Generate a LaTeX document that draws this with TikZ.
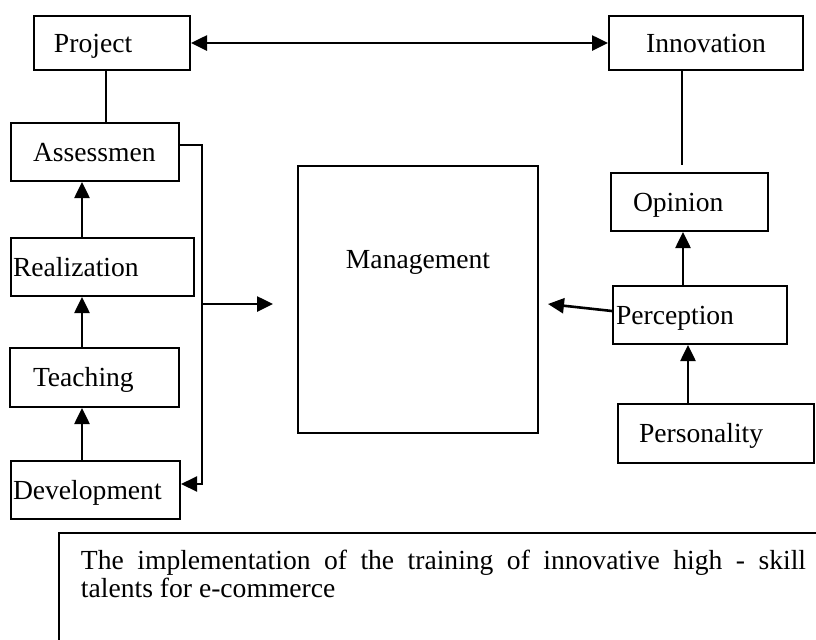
\documentclass[tikz,border=0pt]{standalone}
\usepackage{fontspec}
\setmainfont{Liberation Serif}
\usetikzlibrary{
	arrows.meta,
	calc
}
\tikzset{
	TM-Box/.style={draw,line width=1pt,anchor=north west,align=left,inner ysep=0pt,
		text height=12pt,text depth=2.8pt,font=\fontsize{13.8}{14}\selectfont},
	TM-Arrow/.style={-{Triangle[length=8pt,width=7.5pt]},line width=1.3pt},
	TM-Line/.style={line width=1.2pt}
}

\begin{document}
\begin{tikzpicture}[x=0.5pt,y=-0.5pt]
	\useasboundingbox (0,0) rectangle (816,639);
	\clip (0,0) rectangle (816,639);
	% left column
	\node[TM-Box,minimum height=27pt,inner xsep=10pt,text width=58pt] (project) at (33,15) {Project};
	\node[TM-Box,minimum height=29pt,inner xsep=11pt,text width=62pt] (assess) at (10,122) {Assessmen};
	\node[TM-Box,minimum height=29pt,inner xsep=1pt,text width=89.5pt] (realization) at (10,237) {Realization};
	\node[TM-Box,minimum height=29.5pt,inner xsep=11.5pt,text width=61.5pt] (teaching) at (9,347) {Teaching};
	\node[TM-Box,minimum height=29pt,inner xsep=1pt,text width=82.5pt] (development) at (10,460) {Development};
	% centre
	\node[TM-Box,inner xsep=0pt,text width=120pt,align=center,text height=51pt,text depth=82.5pt] (management) at (297,165) {Management};
	% right column
	\node[TM-Box,minimum height=27pt,inner xsep=15pt,text width=67pt,align=center] (innovation) at (608,15) {Innovation};
	\node[TM-Box,minimum height=29pt,inner xsep=11pt,text width=56.5pt] (opinion) at (610,172) {Opinion};
	\node[TM-Box,minimum height=29pt,inner xsep=1.5pt,text width=84pt] (perception) at (612,285) {Perception};
	\node[TM-Box,minimum height=29.5pt,inner xsep=10.5pt,text width=77pt] (personality) at (617,403) {Personality};
	% bottom box, runs off the page
	\node[TM-Box,inner xsep=11pt,inner ysep=8.5pt,text width=362.5pt,align=justify,text height=9.5pt,text depth=45pt] (goal) at (58,532)
		{The implementation of the training of innovative high - skill\linebreak talents for e-commerce};
	% columns of the arrows
	\coordinate (lcol) at (82,0);
	\coordinate (ocol) at (683,0);
	\coordinate (pcol) at (688,0);
	\coordinate (bus) at (202,0);
	% top links
	\draw[TM-Line] ([xshift=-3pt]project.south) -- ([xshift=-3pt]project.south |- assess.north);
	\draw[{Triangle[length=8pt,width=7.5pt]}-{Triangle[length=8pt,width=7.5pt]},line width=1.3pt] (project.east) -- (innovation.west);
	\draw[TM-Line] ([xshift=-12pt]innovation.south) -- ([xshift=-12pt,yshift=3.5pt]innovation.south |- opinion.north);
	% upward arrows
	\draw[TM-Arrow] (realization.north -| lcol) -- (assess.south -| lcol);
	\draw[TM-Arrow] (teaching.north -| lcol) -- (realization.south -| lcol);
	\draw[TM-Arrow] (development.north -| lcol) -- (teaching.south -| lcol);
	\draw[TM-Arrow] (perception.north -| ocol) -- (opinion.south -| ocol);
	\draw[TM-Arrow] (personality.north -| pcol) -- (perception.south -| pcol);
	% bracket and arrows into management
	\draw[TM-Arrow,line width=1pt] ([yshift=3.5pt]assess.east) -- ([yshift=3.5pt]assess.east -| bus)
		-- ([yshift=3pt]development.east -| bus) -- ([yshift=3pt]development.east);
	\draw[TM-Arrow] ([yshift=-2.25pt]management.west -| bus) -- ([xshift=-12pt,yshift=-2.25pt]management.west);
	\draw[TM-Arrow] ([yshift=2pt]perception.west) -- ([xshift=4.5pt,yshift=-2.25pt]management.east);
\end{tikzpicture}
\end{document}
